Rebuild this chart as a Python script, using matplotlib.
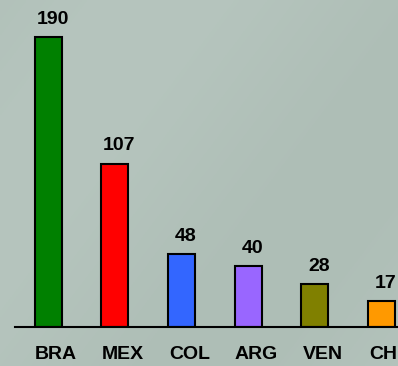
"""South American bar chart, values above bars, textured grey-green backdrop."""
import numpy as np
import matplotlib
matplotlib.use('Agg')
import matplotlib.pyplot as plt
from matplotlib.transforms import ScaledTranslation

plt.rcParams['font.family'] = ['Liberation Sans', 'DejaVu Sans']

countries = ['BRA', 'MEX', 'COL', 'ARG', 'VEN', 'CHL']
values = [190, 107, 48, 40, 28, 17]
colors = ['#008000', '#ff0000', '#3366ff', '#9966ff', '#808000', '#ff9900']

W, H, DPI = 398, 366, 100
fig = plt.figure(figsize=(W / DPI, H / DPI), dpi=DPI)

# background: soft diagonal gradient (grey-green)
bg = fig.add_axes([0, 0, 1, 1])
yy, xx = np.mgrid[0:1:200j, 0:1:200j]
g = 0.5 + 0.5 * np.sin((xx * 1.3 + yy * 0.9) * 3.0)
base = np.array([0xae, 0xbe, 0xb6]) / 255
light = np.array([0xb6, 0xc5, 0xbe]) / 255
img = base[None, None, :] * (1 - g[..., None]) + light[None, None, :] * g[..., None]
bg.imshow(img, aspect='auto', extent=[0, 1, 0, 1], origin='upper')
bg.set_axis_off()

# main axes: left edge at 15 px, baseline at 327 px, 66.6 px per category
left, bottom = 15, H - 327
ax = fig.add_axes([left / W, bottom / H, 6 * 66.6 / W, 327 / H])
ax.patch.set_alpha(0)

x = np.arange(len(countries))
ax.bar(x, values, width=0.405, color=colors, edgecolor='black', linewidth=1.5,
       zorder=3)
ax.set_xlim(-0.5, 5.5)
ax.set_ylim(0, 214)

for xi, v in zip(x, values):
    ax.annotate(str(v), (xi, v), xytext=(3, 6.5), textcoords='offset points',
                ha='center', va='bottom', fontsize=14, fontweight='bold')

ax.set_xticks(x)
ax.set_xticklabels(countries, fontsize=14, fontweight='bold')
ax.tick_params(axis='x', length=0, pad=13.5)
shift = ScaledTranslation(8 / DPI, 0, fig.dpi_scale_trans)
for lbl in ax.get_xticklabels():
    lbl.set_transform(lbl.get_transform() + shift)
ax.set_yticks([])

for s in ['top', 'right', 'left']:
    ax.spines[s].set_visible(False)
ax.spines['bottom'].set_linewidth(1.5)
ax.spines['bottom'].set_zorder(4)

fig.savefig('out.png', dpi=DPI)
